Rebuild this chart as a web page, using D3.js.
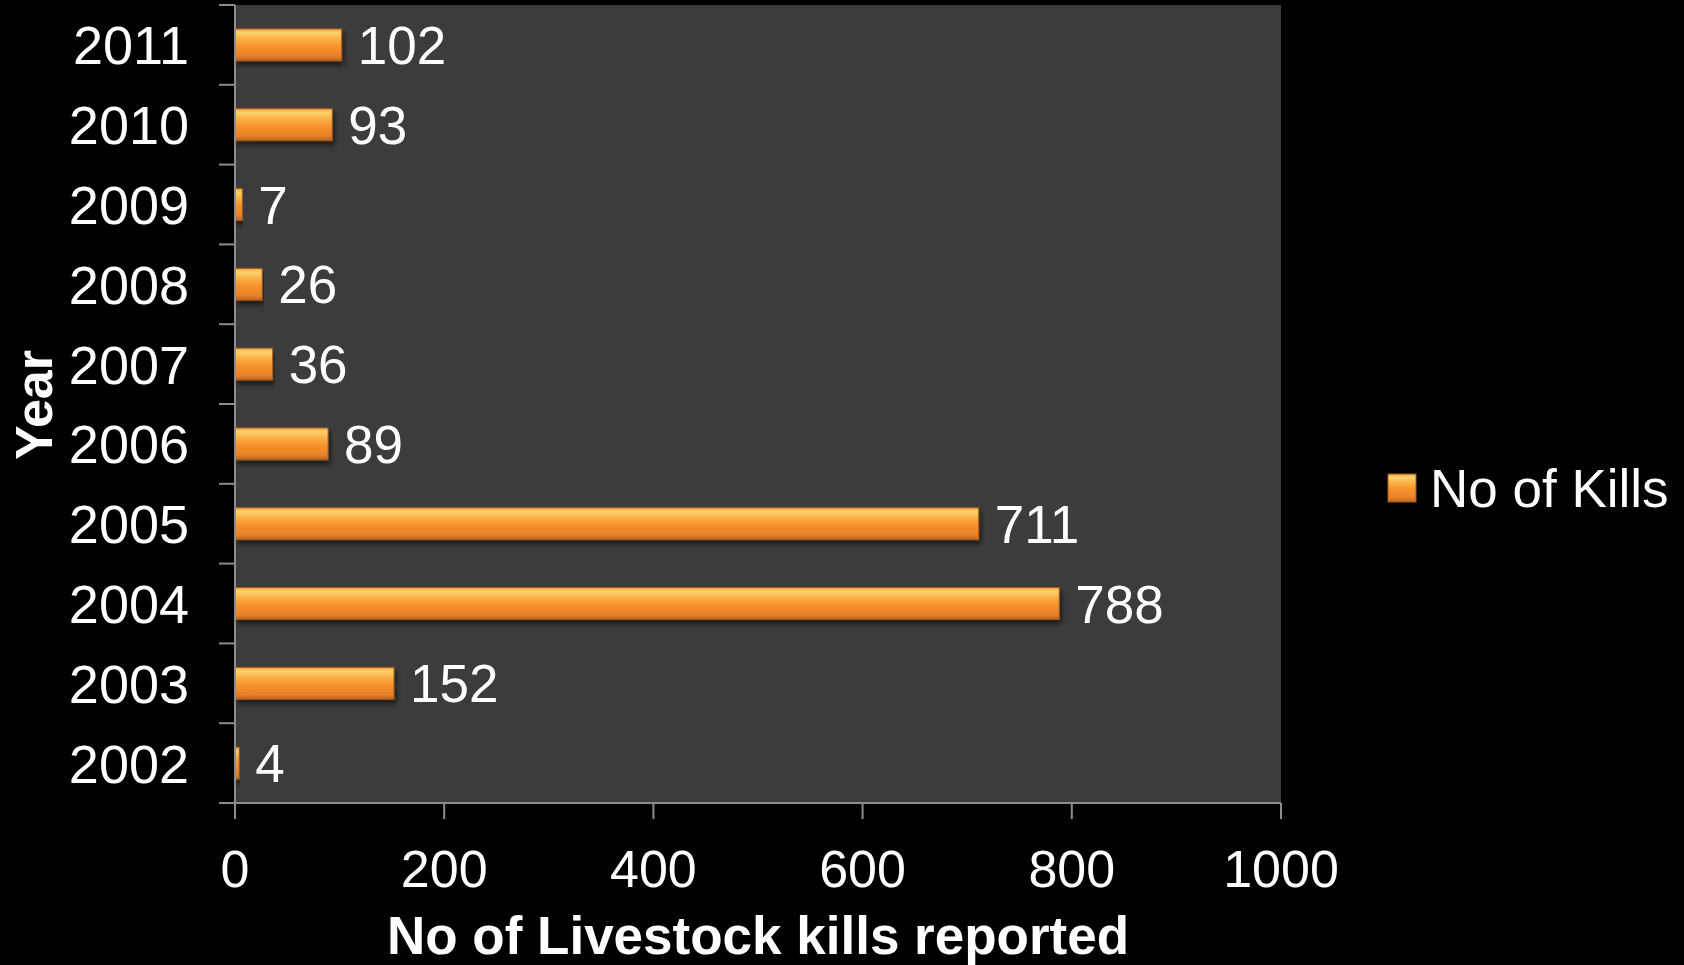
<!DOCTYPE html>
<html>
<head>
<meta charset="utf-8">
<script src="https://cdnjs.cloudflare.com/ajax/libs/d3/7.8.5/d3.min.js"></script>
<style>
  html, body { margin: 0; padding: 0; background: #000; }
  svg { display: block; font-family: Arial, "Liberation Sans", sans-serif; }
</style>
</head>
<body>
<div id="chart"></div>
<script>
var years = ["2011", "2010", "2009", "2008", "2007", "2006", "2005", "2004", "2003", "2002"];
var kills = [102, 93, 7, 26, 36, 89, 711, 788, 152, 4];
var xTicks = [0, 200, 400, 600, 800, 1000];
var seriesName = "No of Kills";

var W = 1684, H = 965;
var plot = { left: 235, right: 1281, top: 5, bottom: 803 };

var svg = d3.select("#chart").append("svg")
    .attr("width", W)
    .attr("height", H);

var defs = svg.append("defs");
var grad = defs.append("linearGradient")
    .attr("id", "barGrad")
    .attr("x1", 0).attr("y1", 0).attr("x2", 0).attr("y2", 1);
[["0%", "#f3a448"], ["12%", "#fdd36c"], ["30%", "#fbb24a"], ["55%", "#f7922c"], ["85%", "#e8822a"], ["100%", "#b8641f"]]
    .forEach(function (s) { grad.append("stop").attr("offset", s[0]).attr("stop-color", s[1]); });

var shadow = defs.append("filter").attr("id", "shadow")
    .attr("x", "-5%").attr("y", "-30%").attr("width", "110%").attr("height", "180%");
shadow.append("feDropShadow").attr("dx", 2).attr("dy", 4).attr("stdDeviation", 2.5)
    .attr("flood-color", "#000").attr("flood-opacity", 0.55);

var x = d3.scaleLinear().domain([0, 1000]).range([plot.left, plot.right]);
var y = d3.scaleBand().domain(years).range([plot.top, plot.bottom]).paddingInner(0.6).paddingOuter(0.3);
var yLines = d3.scaleBand().domain(years).range([plot.top, plot.bottom]);

// plot background
svg.append("rect")
    .attr("x", plot.left).attr("y", plot.top)
    .attr("width", plot.right - plot.left).attr("height", plot.bottom - plot.top)
    .attr("fill", "#3c3c3c");

// bars
svg.selectAll("rect.bar")
    .data(kills)
    .enter()
    .append("rect")
    .attr("class", "bar")
    .attr("x", x(0))
    .attr("y", function (d, i) { return y(years[i]); })
    .attr("width", function (d) { return x(d) - x(0); })
    .attr("height", y.bandwidth())
    .attr("fill", "url(#barGrad)")
    .attr("stroke", "#a85a1c")
    .attr("stroke-width", 1)
    .attr("filter", "url(#shadow)");

// data labels
svg.selectAll("text.val")
    .data(kills)
    .enter()
    .append("text")
    .attr("class", "val")
    .attr("x", function (d) { return x(d) + 16; })
    .attr("y", function (d, i) { return y(years[i]) + y.bandwidth() / 2; })
    .attr("dy", "0.36em")
    .attr("fill", "#fff")
    .attr("font-size", 53)
    .text(function (d) { return d; });

// y axis
var yAxis = svg.append("g").attr("transform", "translate(" + plot.left + ",0)");
yAxis.append("line")
    .attr("x1", 0).attr("x2", 0).attr("y1", plot.top).attr("y2", plot.bottom)
    .attr("stroke", "#8c8c8c").attr("stroke-width", 2);
var bounds = years.map(function (yr) { return yLines(yr); }).concat([plot.bottom]);
yAxis.selectAll("line.tick")
    .data(bounds)
    .enter()
    .append("line")
    .attr("class", "tick")
    .attr("x1", -16).attr("x2", 0)
    .attr("y1", function (d) { return d; }).attr("y2", function (d) { return d; })
    .attr("stroke", "#8c8c8c").attr("stroke-width", 2);
yAxis.selectAll("text")
    .data(years)
    .enter()
    .append("text")
    .attr("x", -46)
    .attr("y", function (d) { return yLines(d) + yLines.bandwidth() / 2; })
    .attr("dy", "0.36em")
    .attr("text-anchor", "end")
    .attr("fill", "#fff")
    .attr("font-size", 54)
    .text(function (d) { return d; });

// x axis
var xAxis = svg.append("g").attr("transform", "translate(0," + plot.bottom + ")");
xAxis.append("line")
    .attr("x1", plot.left - 16).attr("x2", plot.right).attr("y1", 0).attr("y2", 0)
    .attr("stroke", "#8c8c8c").attr("stroke-width", 2);
xAxis.selectAll("line.tick")
    .data(xTicks)
    .enter()
    .append("line")
    .attr("class", "tick")
    .attr("x1", function (d) { return x(d); }).attr("x2", function (d) { return x(d); })
    .attr("y1", 0).attr("y2", 16)
    .attr("stroke", "#8c8c8c").attr("stroke-width", 2);
xAxis.selectAll("text")
    .data(xTicks)
    .enter()
    .append("text")
    .attr("x", function (d) { return x(d); })
    .attr("y", 84)
    .attr("text-anchor", "middle")
    .attr("fill", "#fff")
    .attr("font-size", 52)
    .text(function (d) { return d; });

// axis titles
svg.append("text")
    .attr("x", (plot.left + plot.right) / 2)
    .attr("y", 954)
    .attr("text-anchor", "middle")
    .attr("fill", "#fff")
    .attr("font-size", 53)
    .attr("font-weight", "bold")
    .text("No of Livestock kills reported");

svg.append("text")
    .attr("transform", "translate(52,405) rotate(-90)")
    .attr("text-anchor", "middle")
    .attr("fill", "#fff")
    .attr("font-size", 52)
    .attr("font-weight", "bold")
    .text("Year");

// legend
var legend = svg.append("g").attr("transform", "translate(1388,474)");
legend.append("rect")
    .attr("width", 28).attr("height", 28)
    .attr("fill", "url(#barGrad)")
    .attr("stroke", "#a85a1c");
legend.append("text")
    .attr("x", 42).attr("y", 14)
    .attr("dy", "0.36em")
    .attr("fill", "#fff")
    .attr("font-size", 53)
    .text(seriesName);
</script>
</body>
</html>
